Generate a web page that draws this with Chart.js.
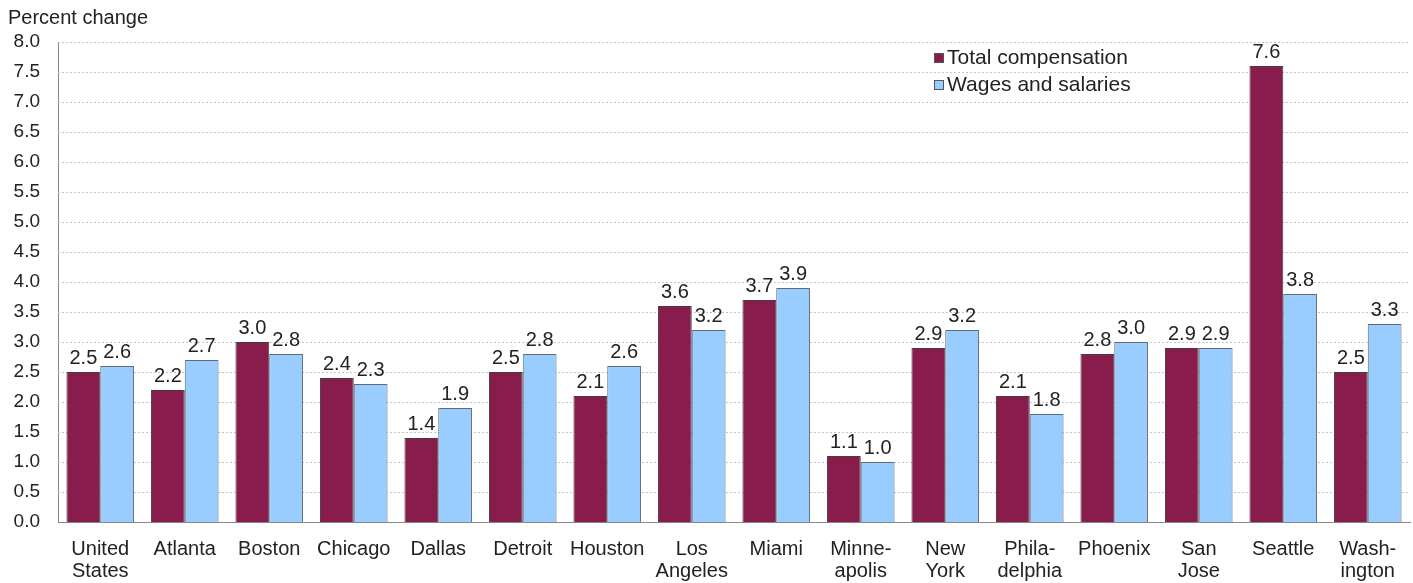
<!DOCTYPE html>
<html>
<head>
<meta charset="utf-8">
<script src="https://cdn.jsdelivr.net/npm/chart.js@4"></script>
<style>
  html, body { margin: 0; padding: 0; background: #fff; }
  #wrap { width: 1413px; height: 583px; }
</style>
</head>
<body>
<div id="wrap"><canvas id="chart" width="1413" height="583"></canvas></div>
<script>
const cities = [['United', 'States'], 'Atlanta', 'Boston', 'Chicago', 'Dallas', 'Detroit', 'Houston',
  ['Los', 'Angeles'], 'Miami', ['Minne-', 'apolis'], ['New', 'York'], ['Phila-', 'delphia'],
  'Phoenix', ['San', 'Jose'], 'Seattle', ['Wash-', 'ington']];
const totalComp = [2.5, 2.2, 3.0, 2.4, 1.4, 2.5, 2.1, 3.6, 3.7, 1.1, 2.9, 2.1, 2.8, 2.9, 7.6, 2.5];
const wages = [2.6, 2.7, 2.8, 2.3, 1.9, 2.8, 2.6, 3.2, 3.9, 1.0, 3.2, 1.8, 3.0, 2.9, 3.8, 3.3];

const FONT = 'Arial, "Liberation Sans", sans-serif';

// values over each bar
const valueLabels = {
  id: 'valueLabels',
  afterDatasetsDraw(chart) {
    const ctx = chart.ctx;
    ctx.save();
    ctx.font = '20px ' + FONT;
    ctx.fillStyle = '#222';
    ctx.textAlign = 'center';
    ctx.textBaseline = 'alphabetic';
    chart.data.datasets.forEach((ds, i) => {
      chart.getDatasetMeta(i).data.forEach((bar, j) => {
        ctx.fillText(ds.data[j].toFixed(1), bar.x, bar.y - 8);
      });
    });
    ctx.restore();
  }
};

// axis title top-left and legend inside plot
const extras = {
  id: 'extras',
  afterDraw(chart) {
    const ctx = chart.ctx;
    ctx.save();
    ctx.font = '20px ' + FONT;
    ctx.fillStyle = '#222';
    ctx.textBaseline = 'middle';
    ctx.textAlign = 'left';
    ctx.fillText('Percent change', 8, 18);
    ctx.font = '21px ' + FONT;
    chart.data.datasets.forEach((ds, i) => {
      const y = 58 + i * 27;
      ctx.fillStyle = ds.backgroundColor;
      ctx.fillRect(934, y - 5, 10, 10);
      ctx.strokeStyle = '#555';
      ctx.lineWidth = 1;
      ctx.strokeRect(934.5, y - 4.5, 9, 9);
      ctx.fillStyle = '#222';
      ctx.fillText(ds.label, 947, y);
    });
    ctx.restore();
  }
};

// dotted horizontal grid
const dottedGrid = {
  id: 'dottedGrid',
  beforeDatasetsDraw(chart) {
    const ctx = chart.ctx;
    const y = chart.scales.y;
    const a = chart.chartArea;
    ctx.save();
    ctx.strokeStyle = '#c8bfd0';
    ctx.lineWidth = 1;
    ctx.setLineDash([2, 2]);
    y.ticks.forEach(t => {
      if (t.value === 0) return;
      const py = Math.round(y.getPixelForValue(t.value)) + 0.5;
      ctx.beginPath();
      ctx.moveTo(a.left, py);
      ctx.lineTo(a.right, py);
      ctx.stroke();
    });
    ctx.restore();
  }
};

new Chart(document.getElementById('chart'), {
  type: 'bar',
  data: {
    labels: cities,
    datasets: [
      { label: 'Total compensation', data: totalComp, backgroundColor: '#871c4d', borderColor: '#4a3a44', borderWidth: 1 },
      { label: 'Wages and salaries', data: wages, backgroundColor: '#99ccff', borderColor: '#5a6a78', borderWidth: 1 }
    ]
  },
  options: {
    responsive: false,
    animation: false,
    layout: { padding: { top: 42, right: 3, left: 0, bottom: 0 } },
    datasets: { bar: { categoryPercentage: 0.8, barPercentage: 1.0 } },
    plugins: { legend: { display: false }, tooltip: { enabled: false } },
    scales: {
      x: {
        afterFit(s) { s.height = 61; },
        grid: { display: false, drawTicks: false },
        border: { color: '#888', width: 1 },
        ticks: { color: '#222', font: { family: FONT, size: 20, lineHeight: 1.1 }, padding: 16, maxRotation: 0, autoSkip: false }
      },
      y: {
        min: 0, max: 8,
        afterFit(s) { s.width = 58; },
        grid: { display: false, drawTicks: false },
        border: { color: '#888', width: 1 },
        ticks: { stepSize: 0.5, color: '#222', font: { family: FONT, size: 19 }, padding: 18,
          callback: v => v.toFixed(1) }
      }
    }
  },
  plugins: [dottedGrid, valueLabels, extras]
});
</script>
</body>
</html>
